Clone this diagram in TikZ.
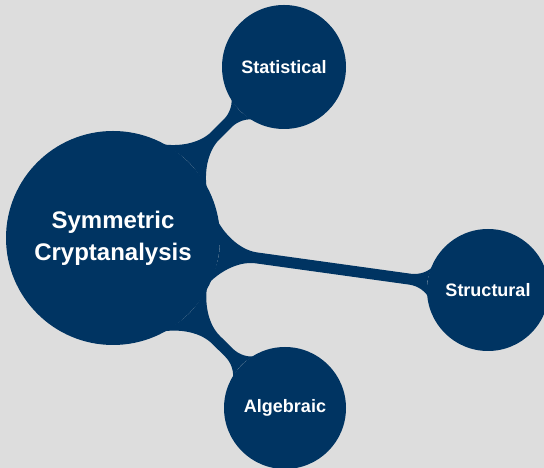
\documentclass[tikz,border=0pt]{standalone}
\usepackage{fontspec}
\setmainfont{Liberation Sans}
\usetikzlibrary{mindmap,decorations}
\definecolor{bg}{HTML}{DDDDDD}
\definecolor{mc}{HTML}{003462}
\tikzset{
  conc/.style={circle, fill=mc, text=white, font=\bfseries, align=center, inner sep=0pt},
  rootc/.style={conc, minimum size=214pt, font=\bfseries\fontsize{24}{32}\selectfont},
  kidc/.style={conc, minimum size=122pt, font=\bfseries\fontsize{18}{22}\selectfont},
  bar/.style={draw=none, fill=mc, decorate,
    decoration={circle connection bar, start radius=75pt, end radius=35pt, amplitude=11pt, angle=30}}
}
\begin{document}
\begin{tikzpicture}[x=1pt,y=1pt]
\useasboundingbox[fill=bg] (0,0) rectangle (544,468);
\node[rootc] (root) at (113,230) {Symmetric\\Cryptanalysis};
\node[kidc, minimum size=124pt] (stat) at (284,401) {Statistical};
\node[kidc] (struct) at (488,178) {Structural};
\node[kidc] (alg) at (285,60) {Algebraic};
\path[bar] (root) to (stat);
\path[bar] (root) to (struct);
\path[bar] (root) to (alg);
\end{tikzpicture}
\end{document}
